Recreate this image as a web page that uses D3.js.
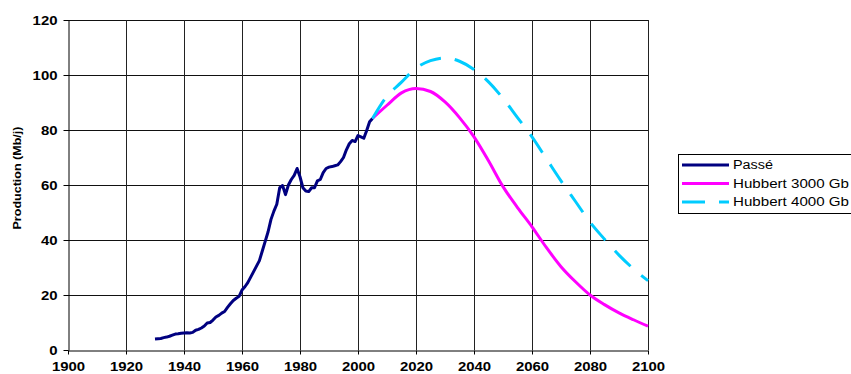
<!DOCTYPE html>
<html>
<head>
<meta charset="utf-8">
<script src="https://cdn.jsdelivr.net/npm/d3@7"></script>
<style>
  html, body { margin: 0; padding: 0; background: #fff; }
  svg { display: block; }
  text { font-family: "Liberation Sans", Arial, sans-serif; }
</style>
</head>
<body>
<svg id="chart" width="851" height="374"></svg>
<script>
// ---- Data ----
const pastYears = [1930,1931,1932,1933,1934,1935,1936,1937,1938,1939,
  1940,1941,1942,1943,1944,1945,1946,1947,1948,1949,
  1950,1951,1952,1953,1954,1955,1956,1957,1958,1959,
  1960,1961,1962,1963,1964,1965,1966,1967,1968,1969,
  1970,1971,1972,1973,1974,1975,1976,1977,1978,1979,
  1980,1981,1982,1983,1984,1985,1986,1987,1988,1989,
  1990,1991,1992,1993,1994,1995,1996,1997,1998,1999,
  2000,2001,2002,2003,2004,2005];
const pastValues = [4.0,4.1,4.2,4.5,4.7,5.0,5.4,5.8,5.9,6.1,
  6.2,6.3,6.2,6.4,7.2,7.5,8.0,8.7,9.8,10.0,
  10.9,12.0,12.6,13.4,14.0,15.5,16.8,18.0,18.8,19.5,
  21.8,23.0,24.5,26.5,28.5,30.5,32.5,36.0,39.5,43.0,
  47.5,50.5,53.0,59.0,59.8,56.5,60.0,62.0,63.5,66.0,
  63.0,59.0,57.8,57.6,59.0,59.0,61.5,62.0,64.5,66.0,
  66.5,66.7,67.0,67.3,68.5,70.0,72.8,75.0,76.2,75.8,
  78.0,77.5,77.0,79.8,83.0,84.2];

const hubbertYears = [2005,2010,2015,2020,2025,2030,2035,2040,2045,2050,
  2055,2060,2065,2070,2075,2080,2085,2090,2095,2100];
const hubbert3000 = [84.2,89.0,93.5,95.1,94.0,90.2,84.5,77.5,68.8,59.4,
  51.8,44.8,37.2,30.3,24.8,20.0,16.5,13.5,11.0,8.7];
const hubbert4000 = [84.2,92.3,97.4,102.5,105.2,106.2,105.0,102.0,97.5,91.5,
  84.5,77.5,69.5,61.5,54.0,46.5,40.3,34.5,29.5,25.2];

const xTicks = [1900,1920,1940,1960,1980,2000,2020,2040,2060,2080,2100];
const yTicks = [0,20,40,60,80,100,120];
const seriesNames = ["Passé","Hubbert 3000 Gb","Hubbert 4000 Gb"];

// ---- Chart ----
const svg = d3.select("#chart");
const x = d3.scaleLinear().domain([1900, 2100]).range([68, 648]);
const y = d3.scaleLinear().domain([0, 120]).range([350, 20]);

// gridlines
const grid = svg.append("g");
grid.selectAll("line.h").data(yTicks.filter(d => d > 0)).join("line")
  .attr("x1", x(1900)).attr("x2", x(2100))
  .attr("y1", d => Math.round(y(d)) + 0.5).attr("y2", d => Math.round(y(d)) + 0.5)
  .attr("stroke", "#111").attr("stroke-width", 1);
grid.selectAll("line.v").data(xTicks.filter(d => d > 1900)).join("line")
  .attr("y1", y(0)).attr("y2", y(120))
  .attr("x1", d => Math.round(x(d)) + 0.5).attr("x2", d => Math.round(x(d)) + 0.5)
  .attr("stroke", "#222").attr("stroke-width", 1);

// axes
const digitW = 8.3;
const xAxis = svg.append("g").attr("transform", `translate(0,${Math.round(y(0)) + 0.5})`)
  .call(d3.axisBottom(x).tickValues(xTicks).tickFormat(d3.format("d")).tickSize(4).tickSizeOuter(0));
xAxis.select(".domain").attr("stroke", "#000");
xAxis.selectAll(".tick line").attr("stroke", "#000");
xAxis.selectAll(".tick text")
  .attr("font-size", 13).attr("font-weight", "bold").attr("fill", "#000")
  .attr("y", 9).attr("dy", "0.9em")
  .attr("textLength", d => String(d).length * digitW)
  .attr("lengthAdjust", "spacingAndGlyphs");

const yAxis = svg.append("g").attr("transform", `translate(${Math.round(x(1900)) + 0.5},0)`)
  .call(d3.axisLeft(y).tickValues(yTicks).tickSize(5).tickSizeOuter(0));
yAxis.select(".domain").attr("stroke", "#000");
yAxis.selectAll(".tick line").attr("stroke", "#000");
yAxis.selectAll(".tick text")
  .attr("font-size", 13).attr("font-weight", "bold").attr("fill", "#000")
  .attr("x", -11).attr("dy", "0.35em")
  .attr("textLength", d => String(d).length * digitW)
  .attr("lengthAdjust", "spacingAndGlyphs");

// y title
svg.append("text")
  .attr("transform", "translate(21,178) rotate(-90)")
  .attr("text-anchor", "middle")
  .attr("font-size", 11.5).attr("font-weight", "bold").attr("fill", "#000")
  .attr("textLength", 103).attr("lengthAdjust", "spacingAndGlyphs")
  .text("Production (Mb/j)");

// lines
const colors = ["#000080", "#FF00FF", "#00CCFF"];
const dashes = [null, null, "22,14"];
const pastData = pastYears.map((yr, i) => [yr, pastValues[i]]);
const h3Data = hubbertYears.map((yr, i) => [yr, hubbert3000[i]]);
const h4Data = hubbertYears.map((yr, i) => [yr, hubbert4000[i]]);

const lineLin = d3.line().x(d => x(d[0])).y(d => y(d[1]));
const lineSmooth = d3.line().x(d => x(d[0])).y(d => y(d[1])).curve(d3.curveMonotoneX);

svg.append("path").datum(pastData).attr("d", lineLin)
  .attr("fill", "none").attr("stroke", colors[0]).attr("stroke-width", 3)
  .attr("stroke-linejoin", "round");
svg.append("path").datum(h3Data).attr("d", lineSmooth)
  .attr("fill", "none").attr("stroke", colors[1]).attr("stroke-width", 3);
svg.append("path").datum(h4Data).attr("d", lineSmooth)
  .attr("fill", "none").attr("stroke", colors[2]).attr("stroke-width", 3)
  .attr("stroke-dasharray", dashes[2]);

// legend
const lg = svg.append("g");
lg.append("rect").attr("x", 678.5).attr("y", 154.5).attr("width", 190).attr("height", 59)
  .attr("fill", "#fff").attr("stroke", "#000").attr("stroke-width", 1);
const legendLens = [40, 116, 116];
seriesNames.forEach((name, i) => {
  const cy = 165 + i * 18.5;
  lg.append("line").attr("x1", 682).attr("x2", 729).attr("y1", cy).attr("y2", cy)
    .attr("stroke", colors[i]).attr("stroke-width", 3)
    .attr("stroke-dasharray", i === 2 ? "23,14" : null);
  lg.append("text").attr("x", 733).attr("y", cy).attr("dy", "0.36em")
    .attr("font-size", 12).attr("fill", "#000")
    .attr("textLength", legendLens[i]).attr("lengthAdjust", "spacingAndGlyphs")
    .text(name);
});
</script>
</body>
</html>
